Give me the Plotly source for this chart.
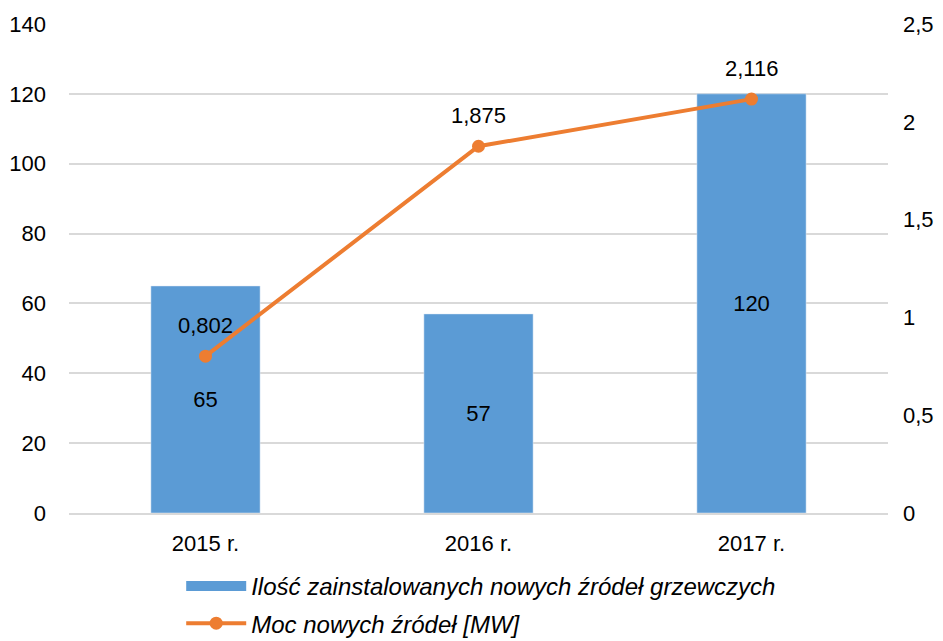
import plotly.graph_objects as go

categories = ["2015 r.", "2016 r.", "2017 r."]
counts = [65, 57, 120]
power_mw = [0.802, 1.875, 2.116]
count_name = "Ilość zainstalowanych nowych źródeł grzewczych"
power_name = "Moc nowych źródeł [MW]"

FONT = "Liberation Sans, Arial, sans-serif"
FS = 22
BLUE = "#5B9BD5"
ORANGE = "#ED7D31"

fig = go.Figure()
fig.add_trace(go.Bar(
    x=categories, y=counts, name=count_name,
    marker_color=BLUE, width=0.4,
    text=[str(v) for v in counts], textposition="inside",
    insidetextanchor="middle", textangle=0,
    textfont=dict(size=FS, color="#000000", family=FONT),
    showlegend=False,
))
# legend entry for the bars (wide rectangle swatch)
fig.add_trace(go.Scatter(
    x=[None], y=[None], name=count_name, mode="lines",
    line=dict(color=BLUE, width=12), legendgroup="a", hoverinfo="skip",
))
fig.add_trace(go.Scatter(
    x=categories, y=power_mw, name=power_name, yaxis="y2",
    mode="lines+markers",
    line=dict(color=ORANGE, width=4),
    marker=dict(color=ORANGE, size=13),
    legendgroup="b",
))
for c, v in zip(categories, power_mw):
    fig.add_annotation(
        x=c, y=v, yref="y2", text=f"{v:.3f}".replace(".", ","),
        showarrow=False, yshift=31, font=dict(size=FS, color="#000000", family=FONT),
    )

fig.update_layout(
    width=935, height=633,
    margin=dict(l=61, r=55, t=16, b=128, autoexpand=False),
    paper_bgcolor="white", plot_bgcolor="white",
    separators=", ",
    font=dict(family=FONT, size=FS, color="#000000"),
    showlegend=True,
    legend=dict(
        orientation="v", x=0.137, xanchor="left", y=-0.104, yanchor="top",
        font=dict(size=24, family=FONT, style="italic"),
        traceorder="grouped", tracegroupgap=3, itemwidth=60,
        bgcolor="rgba(0,0,0,0)", borderwidth=0,
    ),
    xaxis=dict(
        showgrid=False, showline=True, linecolor="#d9d9d9", linewidth=1.5,
        ticks="", tickfont=dict(size=FS), automargin=False, ticklabelstandoff=10,
    ),
    yaxis=dict(
        range=[0, 140], dtick=20, showgrid=True, gridcolor="#d9d9d9", gridwidth=1.5,
        zeroline=False, ticks="", tickfont=dict(size=FS), ticklabelstandoff=22,
        automargin=False,
    ),
    yaxis2=dict(
        range=[0, 2.5], dtick=0.5, overlaying="y", side="right", showgrid=False,
        zeroline=False, ticks="", tickfont=dict(size=FS), ticklabelstandoff=14,
        automargin=False,
    ),
)

fig.write_html("out.html")
